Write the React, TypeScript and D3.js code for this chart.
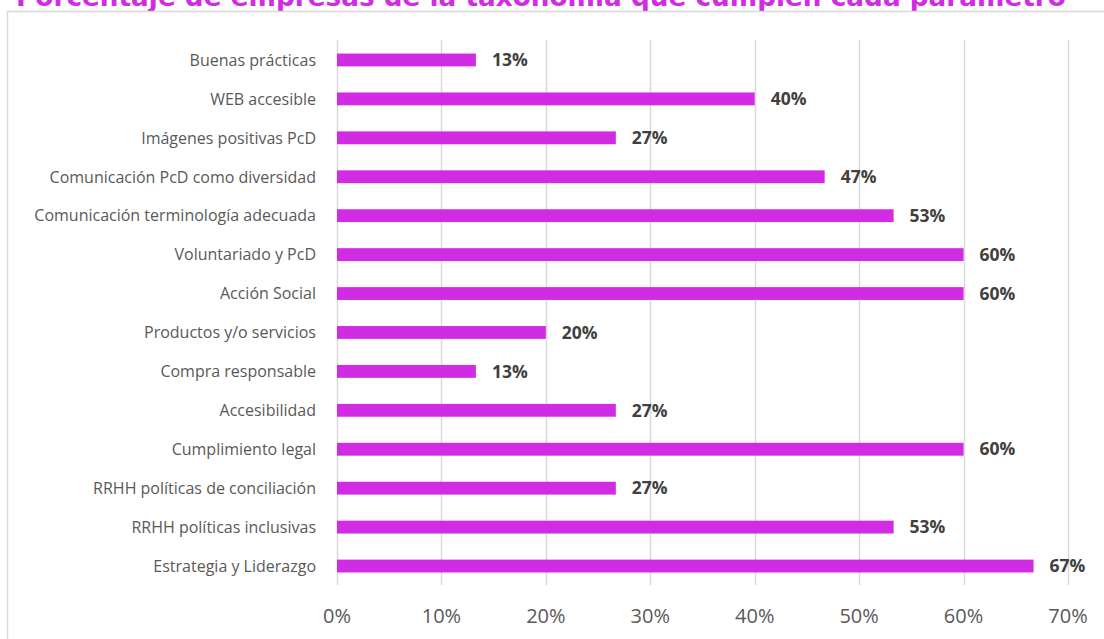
import React, {FC, useEffect} from 'react';
import {scaleLinear, scaleBand} from 'd3';

// categories top to bottom, as in the picture
const categories = [
  'Buenas prácticas',
  'WEB accesible',
  'Imágenes positivas PcD',
  'Comunicación PcD como diversidad',
  'Comunicación terminología adecuada',
  'Voluntariado y PcD',
  'Acción Social',
  'Productos y/o servicios',
  'Compra responsable',
  'Accesibilidad',
  'Cumplimiento legal',
  'RRHH políticas de conciliación',
  'RRHH políticas inclusivas',
  'Estrategia y Liderazgo',
];

const values = [13.3, 40, 26.7, 46.7, 53.3, 60, 60, 20, 13.3, 26.7, 60, 26.7, 53.3, 66.7];

const ticks = [0, 10, 20, 30, 40, 50, 60, 70];

const title = 'Porcentaje de empresas de la taxonomía que cumplen cada parámetro';

const width = 1104;
const height = 639;
const barColor = '#d12ce3';
const gridColor = '#d9d9d9';

const App: FC = () => {
  useEffect(() => {
    document.body.style.margin = '0';
  }, []);

  const x = scaleLinear().domain([0, 70]).range([337, 1068]);
  const y = scaleBand<string>()
    .domain(categories)
    .range([40.5, 585.5])
    .paddingInner(0.67)
    .paddingOuter(0.335);

  return (
    <svg width={width} height={height} style={{display: 'block'}}>
      <rect x={0} y={0} width={width} height={height} fill="#fff" />
      <text
        x={541}
        y={6}
        textAnchor="middle"
        fontFamily="DejaVu Sans"
        fontWeight="bold"
        fontSize={26.3}
        fill={barColor}>
        {title}
      </text>
      <rect
        x={7.5}
        y={11.5}
        width={1120}
        height={700}
        fill="#fff"
        stroke={gridColor}
        strokeWidth={1.5}
      />
      {ticks.map(t => (
        <g key={t}>
          <line
            x1={Math.round(x(t)) + 0.5}
            x2={Math.round(x(t)) + 0.5}
            y1={40}
            y2={585}
            stroke={gridColor}
            strokeWidth={1.5}
          />
          <text
            x={x(t)}
            y={623}
            textAnchor="middle"
            fontFamily="Open Sans"
            fontSize={20}
            fill="#595959">
            {t}%
          </text>
        </g>
      ))}
      {categories.map((c, i) => {
        const yc = (y(c) || 0) + y.bandwidth() / 2;
        return (
          <g key={c}>
            <text
              x={316}
              y={yc + 1.5}
              dominantBaseline="middle"
              textAnchor="end"
              fontFamily="Open Sans"
              fontSize={16}
              fill="#595959">
              {c}
            </text>
            <rect
              x={x(0)}
              y={y(c)}
              width={x(values[i]) - x(0)}
              height={y.bandwidth()}
              fill={barColor}
            />
            <text
              x={x(values[i]) + 16}
              y={yc + 1.5}
              dominantBaseline="middle"
              fontFamily="Open Sans"
              fontWeight="bold"
              fontSize={17.5}
              fill="#404040">
              {Math.round(values[i])}%
            </text>
          </g>
        );
      })}
    </svg>
  );
};

export default App;
